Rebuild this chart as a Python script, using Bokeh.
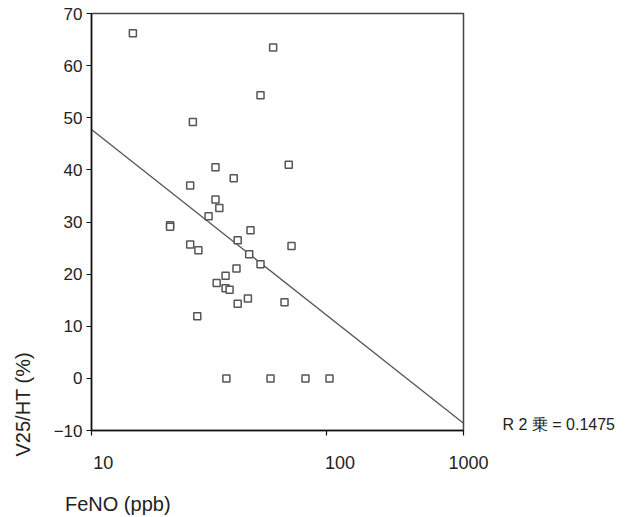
import numpy as np
from bokeh.plotting import figure
from bokeh.models import FixedTicker, LinearAxis, ColumnDataSource
from bokeh.embed import file_html
from bokeh.resources import INLINE

# ---- data ----
feno_ppb = [15.0, 59.3, 52.4, 27.0, 33.7, 69.1, 40.3, 26.3, 33.7, 35.0,
            31.5, 21.6, 21.6, 47.5, 41.9, 26.3, 28.5, 71.0, 46.9, 52.4,
            41.4, 37.2, 34.1, 37.2, 38.7, 46.3, 41.9, 66.3, 28.2, 37.5,
            57.8, 81.4, 103.0]
v25_ht = [66.2, 63.5, 54.3, 49.2, 40.5, 41.0, 38.4, 37.0, 34.3, 32.7,
          31.1, 29.4, 29.1, 28.4, 26.5, 25.7, 24.6, 25.4, 23.8, 21.9,
          21.1, 19.7, 18.3, 17.3, 17.0, 15.3, 14.3, 14.6, 11.9, 0.0,
          0.0, 0.0, 0.0]

fit_intercept = 83.35
fit_slope = -35.6          # per decade of FeNO
r2_text = "R 2 乗 = 0.1475"
r2_pos = -8.8

x_start, x_end = 10, 383
y_start, y_end = -10, 70
x_ticks = [10, 100, x_end]
FS, TS = "\u2007", "\u2009"   # figure space / thin space (shift labels)
x_tick_labels = {10: FS + FS + TS + "10", 100: FS + FS + TS + TS + "100",
                 x_end: FS + "1000"}
y_ticks = [-10, 0, 10, 20, 30, 40, 50, 60, 70]
PAD = FS * 4 + TS * 2
x_title = PAD + "FeNO (ppb)"
y_title = PAD + "V25/HT (%)"

FONT = "Liberation Sans"
TXT = "#222222"

p = figure(width=630, height=517, x_axis_type="log",
           x_range=(x_start, x_end), y_range=(y_start, y_end),
           output_backend="svg", toolbar_location=None,
           min_border_left=91, min_border_right=167,
           min_border_top=13, min_border_bottom=87)

p.background_fill_color = "white"
p.border_fill_color = "white"
p.grid.visible = False
p.outline_line_color = "#444444"
p.outline_line_width = 1.5

# axes
p.xaxis.ticker = FixedTicker(ticks=x_ticks, minor_ticks=[])
p.xaxis.major_label_overrides = x_tick_labels
p.yaxis.ticker = FixedTicker(ticks=y_ticks, minor_ticks=[])
p.yaxis.major_label_overrides = {-10: "\u221210"}
for ax in (p.xaxis, p.yaxis):
    ax.axis_line_color = "#111111"
    ax.axis_line_width = 1.5
    ax.major_tick_line_color = "#111111"
    ax.major_tick_line_width = 1.2
    ax.major_tick_in = 0
    ax.major_tick_out = 5
    ax.minor_tick_line_color = None
    ax.major_label_text_font = FONT
    ax.major_label_text_color = TXT
    ax.axis_label_text_font = FONT
    ax.axis_label_text_font_size = "20px"
    ax.axis_label_text_font_style = "normal"
    ax.axis_label_text_color = TXT
    if "axis_label_align" in ax[0].properties():
        ax.axis_label_align = "start"
p.xaxis.major_label_text_font_size = "18px"
p.xaxis.major_label_standoff = 17
p.yaxis.major_label_text_font_size = "17px"
p.yaxis.major_label_standoff = 4
p.xaxis.axis_label = x_title
p.xaxis.axis_label_standoff = 17
p.yaxis.axis_label = y_title
p.yaxis.axis_label_standoff = 17

# R-squared note placed with a label-only axis on the right
r2_axis = LinearAxis(ticker=FixedTicker(ticks=[r2_pos], minor_ticks=[]),
                     major_label_overrides={r2_pos: r2_text},
                     axis_line_color=None, major_tick_line_color=None,
                     minor_tick_line_color=None, major_label_standoff=33,
                     major_label_text_font=FONT, major_label_text_font_size="16px",
                     major_label_text_color=TXT)
p.add_layout(r2_axis, "right")

# regression line
fit_x = np.array([x_start, x_end], dtype=float)
fit_y = fit_intercept + fit_slope * np.log10(fit_x)
p.line(fit_x, fit_y, line_color="#555555", line_width=1.3)

# points
src = ColumnDataSource(dict(x=feno_ppb, y=v25_ht))
p.scatter("x", "y", source=src, marker="square", size=7,
          fill_color="white", line_color="#555555", line_width=1.5)

open("out.html", "w").write(file_html(p, INLINE))
